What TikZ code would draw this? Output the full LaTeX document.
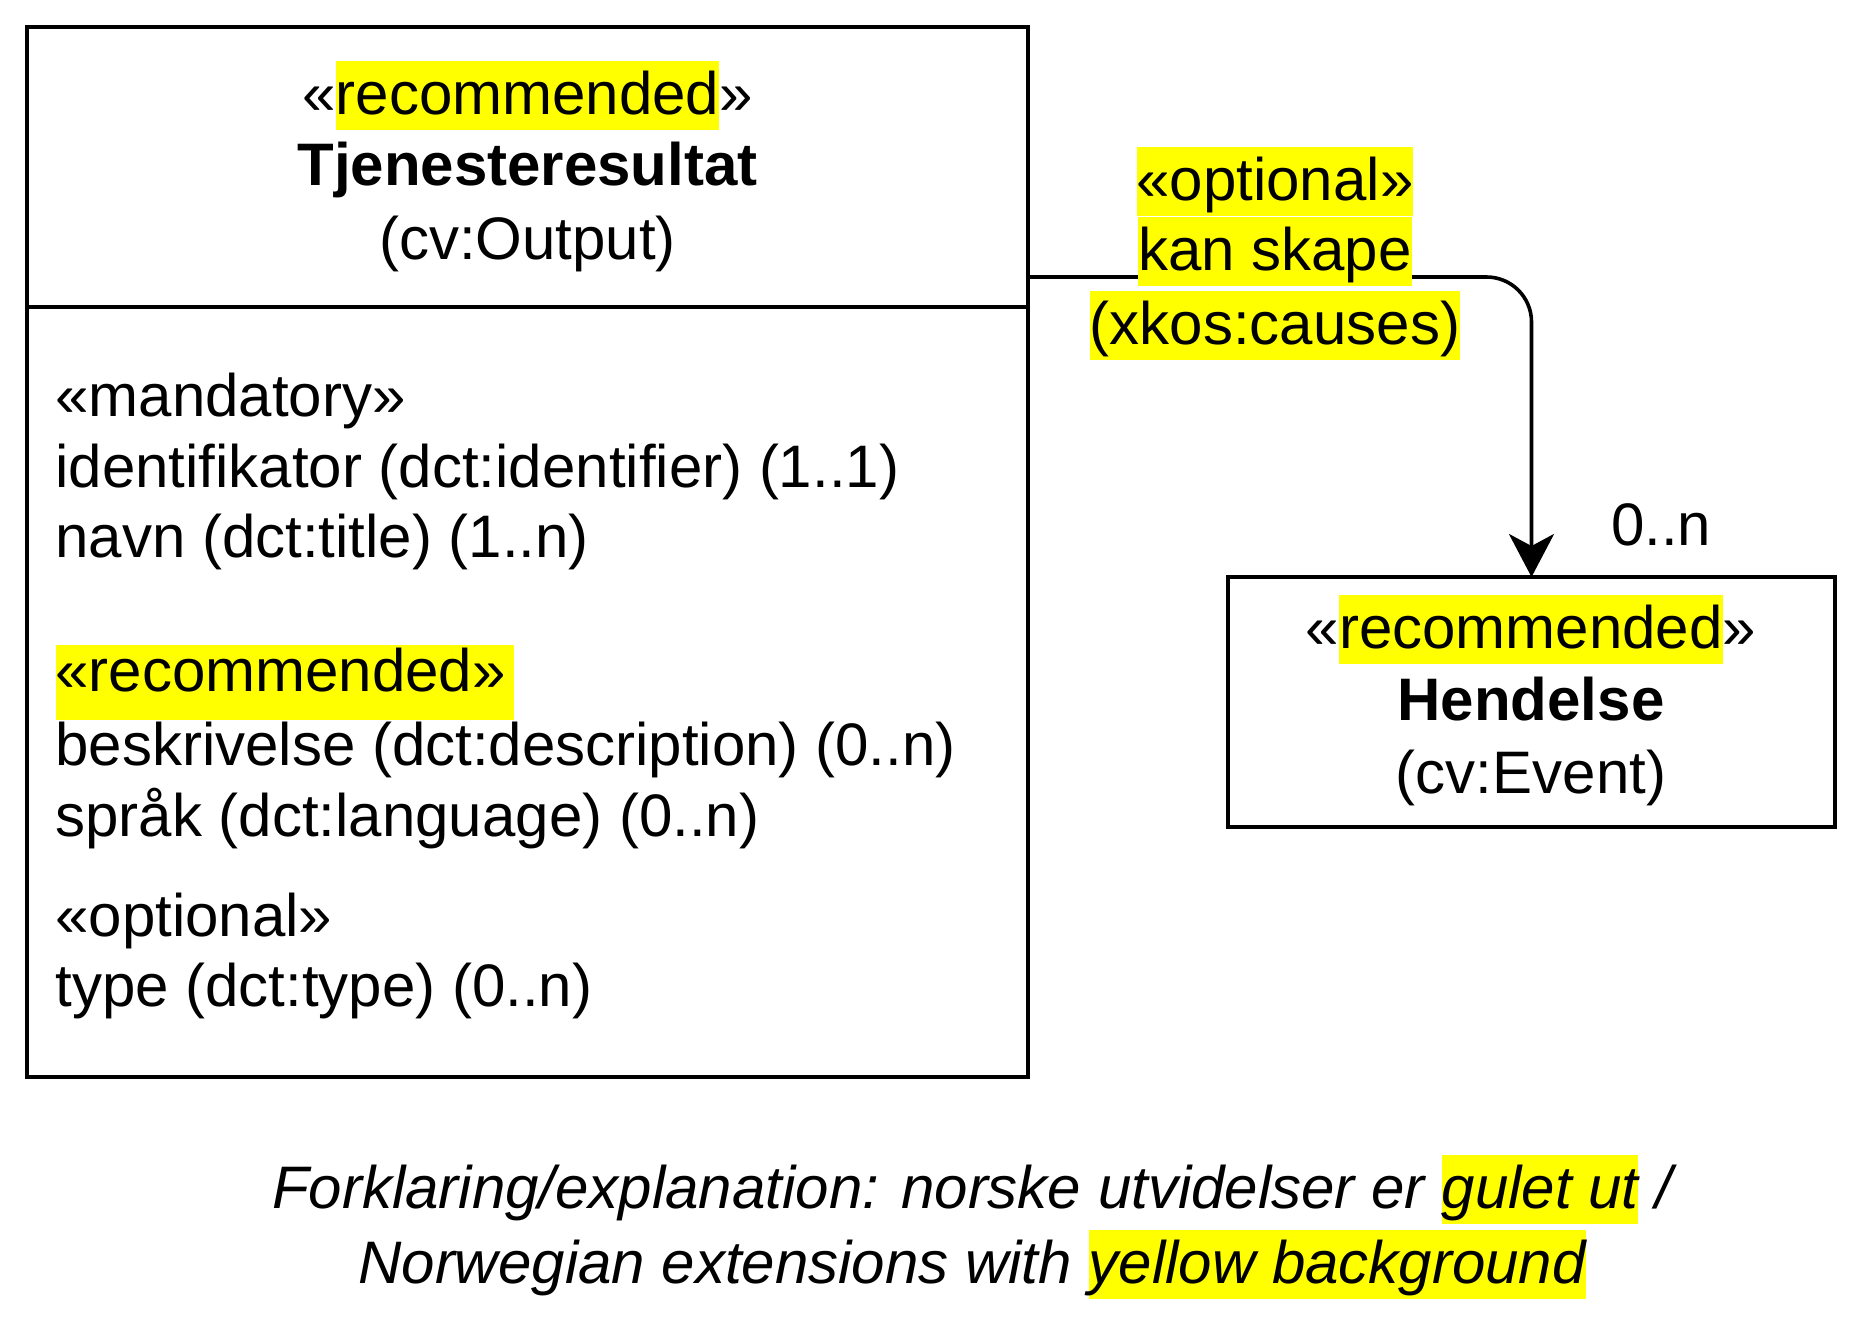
\documentclass[tikz,border=0pt]{standalone}
\usepackage{fontspec}
\setmainfont{Liberation Sans}
\usetikzlibrary{arrows.meta}
\definecolor{hlyellow}{RGB}{255,255,0}
\newcommand\hly[1]{{\setlength{\fboxsep}{0pt}\colorbox{hlyellow}{\rule[-16pt]{0pt}{69pt}#1}}}
\newcommand\hlyb[1]{{\setlength{\fboxsep}{0pt}\colorbox{hlyellow}{\rule[-29pt]{0pt}{75pt}#1\hspace{8pt}}}}
\begin{document}
\begin{tikzpicture}[x=1pt,y=-1pt,
  every node/.style={inner sep=0pt, outer sep=0pt, font=\fontsize{60pt}{72pt}\selectfont},
  umlbox/.style={draw=black, line width=4.5pt, fill=white, rectangle},
  txt/.style={anchor=base},
  txtl/.style={anchor=base west},
  boldtxt/.style={anchor=base, font=\fontsize{60pt}{72pt}\selectfont\bfseries},
  itxt/.style={anchor=base, font=\fontsize{60pt}{72pt}\selectfont\itshape},
  conn/.style={draw=black, line width=3.6pt, rounded corners=45pt, -{Stealth[length=43pt,width=45pt,inset=12pt]}}]
\fill[white] (0,0) rectangle (1865,1325);
\useasboundingbox (0,0) rectangle (1865,1325);
% class boxes
\node[umlbox, minimum width=1001pt, minimum height=1050pt, anchor=north west] (out) at (27,27) {};
\coordinate (dv) at (0,307);
\draw[line width=4.5pt] (out.west |- dv) -- (out.east |- dv);
\node[umlbox, minimum width=607pt, minimum height=250pt, anchor=north west] (ev) at (1228,577) {};
% connector
\coordinate (cy) at (0,277);
\draw[conn] (out.east |- cy) -- (ev.north |- cy) -- (ev.north);
% header
\node[txt] (h1) at (527.5,114) {«\hly{recommended}»};
\node[boldtxt] (h2) at (527.5,185) {Tjenesteresultat};
\node[txt] (h3) at (527.5,259) {(cv:Output)};
% attributes
\node[txtl] (a1) at (55.5,416) {«mandatory»};
\node[txtl] (a2) at (55.5,487) {identifikator (dct:identifier) (1..1)};
\node[txtl] (a3) at (55.5,557) {navn (dct:title) (1..n)};
\node[txtl] (a4) at (55.5,691) {\hlyb{«recommended»}};
\node[txtl] (a5) at (55.5,765) {beskrivelse (dct:description) (0..n)};
\node[txtl] (a6) at (55.5,836) {språk (dct:language) (0..n)};
\node[txtl] (a7) at (55.5,936) {«optional»};
\node[txtl] (a8) at (55.5,1006) {type (dct:type) (0..n)};
% event box
\node[txt] (e1) at (1531,648) {«\hly{recommended}»};
\node[boldtxt] (e2) at (1531,720) {Hendelse};
\node[txt] (e3) at (1531,793) {(cv:Event)};
% connector labels
\node[txt] (l1) at (1275,200) {\hly{«optional»}};
\node[txt] (l2) at (1275,270) {\hly{kan skape}};
\node[txt] (l3) at (1275,344) {\hly{(xkos:causes)}};
\node[txtl] (m) at (1611,545) {0..n};
% footer
\node[itxt] (f1) at (972,1208) {Forklaring/explanation: norske utvidelser er \hly{gulet ut} /};
\node[itxt] (f2) at (972,1283) {Norwegian extensions with \hly{yellow background}};
\end{tikzpicture}
\end{document}
